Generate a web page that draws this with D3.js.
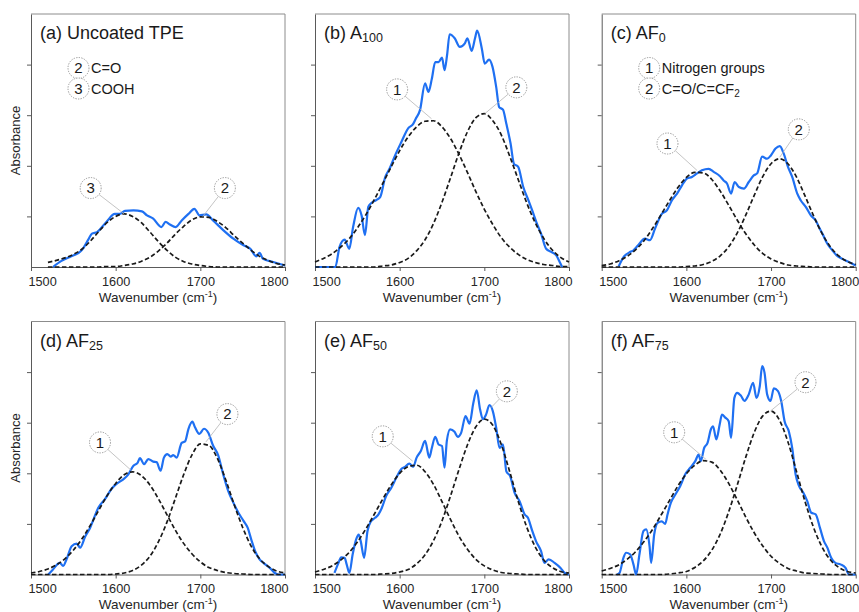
<!DOCTYPE html>
<html>
<head>
<meta charset="utf-8">
<script src="https://cdn.jsdelivr.net/npm/d3@7"></script>
<style>
  body { margin: 0; background: #fff; }
  text { font-family: "Liberation Sans", Arial, sans-serif; }
</style>
</head>
<body>
<div id="chart"></div>
<script>
/* Axis ticks. */
const xTicks = [1500, 1600, 1700, 1800]
const yTicks = [1, 2, 3, 4]

/* Wavenumbers at which the fitted peaks were read. */
const fitGrid = [1500, 1510, 1520, 1530, 1540, 1550, 1560, 1570, 1580, 1590, 1600,
  1610, 1620, 1630, 1640, 1650, 1660, 1670, 1680, 1690, 1700,
  1710, 1720, 1730, 1740, 1750, 1760, 1770, 1780, 1790, 1800]

/* Measured spectra, [wavenumber, absorbance]. */
const specA = [[1526, 0], [1536, 0.12], [1546, 0.2], [1552, 0.24], [1558, 0.3], [1562, 0.38], [1568, 0.55],
  [1572, 0.66], [1578, 0.69], [1589, 0.89], [1599, 1.05], [1605, 1.05], [1611, 1.11], [1621, 1.12],
  [1631, 1.1], [1637, 1.02], [1644, 0.96], [1654, 0.79], [1659, 0.89], [1664, 0.84], [1671, 0.79],
  [1678, 0.92], [1686, 1.05], [1693, 1.15], [1699, 1.02], [1707, 1.04], [1715, 0.92], [1727, 0.73],
  [1739, 0.56], [1751, 0.43], [1759, 0.36], [1766, 0.21], [1770, 0.28], [1774, 0.16], [1786, 0.1], [1800, 0.03]]

const specB = [[1500, 0], [1524, 0], [1529, 0.4], [1535, 0.54], [1540.5, 0.36], [1545, 0.79], [1551, 1.17],
  [1555, 1.02], [1559, 0.63], [1563, 1.19], [1567, 1.27], [1572, 1.32], [1577, 1.38], [1583, 1.78],
  [1588, 1.94], [1595.5, 2.24], [1602, 2.47], [1610, 2.74], [1616, 2.83], [1619, 2.93], [1624, 3.1],
  [1630, 3.63], [1634, 3.46], [1638, 3.72], [1642, 4.05], [1646, 4.05], [1650, 4.14], [1653, 3.89],
  [1656, 4.19], [1659, 4.6], [1665, 4.52], [1671, 4.35], [1677, 4.42], [1680, 4.52], [1685, 4.27],
  [1689, 4.52], [1691.5, 4.67], [1697, 4.32], [1700.5, 4.02], [1705.6, 4.1], [1709.6, 3.96], [1714, 3.56],
  [1717.5, 3.16], [1722, 3.11], [1726, 2.83], [1731, 2.44], [1735, 2.04], [1740, 1.98], [1746, 1.58],
  [1752, 1.32], [1758, 1.05], [1762, 0.86], [1767, 0.66], [1773, 0.36], [1779, 0.3], [1785, 0.23],
  [1789, 0.1], [1792, 0]]

const specC = [[1520, 0.01], [1526, 0.2], [1534, 0.3], [1537.5, 0.33], [1543, 0.43], [1551, 0.56], [1557, 0.53],
  [1563, 0.76], [1571, 1.05], [1577, 1.12], [1583, 1.32], [1589, 1.45], [1595, 1.62], [1600.7, 1.75],
  [1606.6, 1.78], [1612.6, 1.85], [1618.4, 1.91], [1626.3, 1.94], [1632.3, 1.88], [1639.4, 1.8], [1644, 1.71],
  [1648, 1.65], [1652.8, 1.45], [1657, 1.68], [1662, 1.58], [1668, 1.55], [1673.7, 1.68], [1679.6, 1.81],
  [1683.6, 1.85], [1689.5, 2.18], [1695.4, 2.14], [1700, 2.21], [1705.3, 2.34], [1710.4, 2.39], [1715, 2.24],
  [1720, 1.98], [1725, 1.78], [1731, 1.45], [1735, 1.32], [1741, 1.19], [1747, 1.02], [1752.7, 0.92],
  [1756.6, 0.79], [1760.6, 0.66], [1766.5, 0.46], [1772.4, 0.33], [1777.5, 0.23], [1784, 0.16], [1792, 0.1],
  [1800, 0.03]]

const specD = [[1520.5, 0], [1526, 0.1], [1534, 0.23], [1538, 0.17], [1542, 0.3], [1548, 0.56], [1554, 0.61],
  [1558, 0.53], [1564, 0.75], [1570, 0.93], [1573.6, 1.08], [1579.5, 1.32], [1587.4, 1.49], [1595, 1.69],
  [1601, 1.79], [1609, 1.88], [1615, 1.98], [1621, 2.15], [1625.6, 2.2], [1628.7, 2.3], [1633.5, 2.18],
  [1638.6, 2.28], [1644.5, 2.23], [1648.4, 2.22], [1653, 2.05], [1657, 2.31], [1661, 2.38], [1665, 2.33],
  [1668, 2.36], [1672, 2.31], [1678, 2.6], [1682, 2.63], [1686, 2.88], [1690.6, 3.02], [1693.7, 2.91],
  [1698.8, 2.78], [1704.3, 2.88], [1709.4, 2.8], [1715, 2.55], [1721, 2.36], [1727, 1.98], [1733, 1.65],
  [1739, 1.42], [1745, 1.22], [1751, 1.06], [1756, 0.92], [1760, 0.7], [1765, 0.45], [1770, 0.3],
  [1776, 0.21], [1782, 0.13], [1788, 0.03], [1792, 0], [1800, 0]]

const specE = [[1523, 0.03], [1527, 0.2], [1531, 0.34], [1535, 0.33], [1537.4, 0.2], [1540.6, 0.03], [1544.5, 0.4],
  [1548.5, 0.69], [1551.6, 0.79], [1554, 0.66], [1558, 0.33], [1562, 0.86], [1566, 1.05], [1571, 1.12],
  [1575, 1.19], [1579, 1.32], [1584, 1.55], [1590, 1.71], [1596, 1.91], [1601.7, 2.08], [1605.6, 2.12],
  [1611.5, 2.19], [1616, 2.13], [1620, 2.31], [1625, 2.44], [1630, 2.64], [1635, 2.31], [1638, 2.5],
  [1642, 2.72], [1646, 2.57], [1650, 2.54], [1653, 2.11], [1655.7, 2.64], [1659.6, 2.87], [1664.8, 2.82],
  [1668.7, 2.72], [1672.6, 2.8], [1677.8, 3.13], [1682.5, 2.98], [1687, 3.39], [1691, 3.64], [1695, 3.26],
  [1698.3, 3.07], [1702, 3.16], [1706, 3.35], [1710, 3.23], [1714, 2.9], [1718, 2.5], [1722, 2.57],
  [1726, 2.04], [1730.6, 1.94], [1735.7, 1.62], [1741.6, 1.45], [1747.5, 1.19], [1751.5, 1.12],
  [1756.6, 0.86], [1761, 0.66], [1767, 0.46], [1771, 0.23], [1776, 0.3], [1783, 0.23], [1790, 0.13],
  [1795, 0.03], [1800, 0]]

const specF = [[1518, 0], [1521, 0.03], [1525.7, 0.33], [1528.8, 0.43], [1533.6, 0.4], [1537.5, 0.2], [1540.7, 0],
  [1544.6, 0.4], [1549.3, 0.86], [1552.5, 0.89], [1556.5, 0.56], [1558.4, 0.23], [1562, 0.79], [1566, 1.02],
  [1571, 1.05], [1575, 1], [1577.8, 1.19], [1581.7, 1.42], [1587, 1.58], [1592.8, 1.75], [1598.7, 1.98],
  [1604.6, 2.11], [1610.5, 2.24], [1614.5, 2.37], [1617, 2.24], [1621, 2.5], [1625, 2.6], [1629, 2.87],
  [1631.5, 2.93], [1635.4, 2.67], [1639.4, 2.97], [1642, 3.16], [1646, 3.1], [1650, 3.03], [1652.8, 2.7],
  [1656.7, 3.49], [1660, 3.59], [1664.6, 3.53], [1668.6, 3.43], [1673.7, 3.56], [1678.8, 3.79], [1682.8, 3.49],
  [1686.7, 3.72], [1689.5, 4.12], [1692.3, 3.99], [1695.4, 3.56], [1699.4, 3.43], [1703.3, 3.68], [1708, 3.63],
  [1712, 3.43], [1716, 3.03], [1721, 2.83], [1725, 2.5], [1729, 1.98], [1733, 1.75], [1738, 1.62],
  [1742.8, 1.45], [1747.5, 1.22], [1752.7, 1.19], [1757.8, 0.92], [1762.5, 0.66], [1766.5, 0.53], [1771, 0.33],
  [1776, 0.23], [1782, 0.2], [1788, 0.13], [1792, 0], [1800, 0]]

/* Fitted peak components, one value per fitGrid entry (null = not drawn). */
const fitA3 = [null, null, 0.09, 0.13, 0.18, 0.25, 0.35, 0.51, 0.7, 0.88, 1, 1.05, 1, 0.88, 0.7, 0.51, 0.34, 0.2,
  0.11, 0.06, 0.03, 0.01, 0, 0, 0, 0, 0, 0, 0, 0, 0]
const fitA2 = [null, null, 0, 0, 0, 0, 0, 0, 0, 0.01, 0.01, 0.03, 0.06, 0.11, 0.19, 0.31, 0.46, 0.64, 0.8, 0.93,
  0.99, 0.98, 0.9, 0.78, 0.62, 0.47, 0.33, 0.21, 0.13, 0.07, 0.04]
const fitB1 = [0.1, 0.17, 0.26, 0.39, 0.55, 0.77, 1.03, 1.33, 1.65, 1.98, 2.3, 2.57, 2.77, 2.88, 2.89, 2.77, 2.54,
  2.23, 1.87, 1.49, 1.14, 0.84, 0.58, 0.39, 0.25, 0.15, 0.09, 0.05, 0.03, 0.01, 0.01]
const fitB2 = [0, 0, 0, 0, 0, 0, 0, 0, 0.02, 0.04, 0.09, 0.17, 0.32, 0.54, 0.86, 1.28, 1.76, 2.25, 2.67, 2.95,
  3.03, 2.89, 2.61, 2.19, 1.73, 1.27, 0.88, 0.57, 0.34, 0.19, 0.1]
const fitC1 = [0.03, 0.06, 0.12, 0.21, 0.34, 0.52, 0.76, 1.03, 1.31, 1.57, 1.77, 1.87, 1.86, 1.73, 1.5, 1.22,
  0.93, 0.66, 0.44, 0.27, 0.16, 0.09, 0.04, 0.02, 0.01, 0, 0, 0, 0, 0, 0]
const fitC2 = [0, 0, 0, 0, 0, 0, 0, 0, 0, 0, 0.01, 0.02, 0.05, 0.11, 0.22, 0.4, 0.67, 1.02, 1.41, 1.78, 2.04,
  2.14, 2.04, 1.78, 1.41, 1.02, 0.67, 0.4, 0.22, 0.11, 0.05]
const fitD1 = [0.03, 0.06, 0.11, 0.19, 0.31, 0.48, 0.7, 0.97, 1.27, 1.56, 1.8, 1.97, 2.03, 1.96, 1.78, 1.51,
  1.2, 0.89, 0.62, 0.41, 0.25, 0.14, 0.08, 0.04, 0.02, 0.01, 0, 0, 0, 0, 0]
const fitD2 = [0, 0, 0, 0, 0, 0, 0, 0, 0, 0, 0.01, 0.03, 0.08, 0.18, 0.35, 0.63, 1.01, 1.48, 1.96, 2.36, 2.58,
  2.55, 2.3, 1.87, 1.38, 0.93, 0.56, 0.31, 0.16, 0.07, 0.03]
const fitE1 = [0.05, 0.1, 0.17, 0.28, 0.43, 0.64, 0.9, 1.19, 1.49, 1.77, 2, 2.13, 2.16, 2.03, 1.78, 1.44, 1.09,
  0.76, 0.5, 0.3, 0.17, 0.09, 0.04, 0.02, 0.01, 0, 0, 0, 0, 0, 0]
const fitE2 = [0, 0, 0, 0, 0, 0, 0, 0, 0.01, 0.02, 0.05, 0.1, 0.21, 0.39, 0.67, 1.06, 1.55, 2.07, 2.56, 2.92,
  3.07, 2.95, 2.57, 2.03, 1.45, 0.94, 0.55, 0.29, 0.14, 0.06, 0.03]
const fitF1 = [0.07, 0.12, 0.19, 0.3, 0.45, 0.65, 0.89, 1.17, 1.46, 1.75, 1.99, 2.16, 2.25, 2.22, 2.06, 1.8,
  1.48, 1.14, 0.83, 0.57, 0.36, 0.22, 0.12, 0.07, 0.03, 0.02, 0.01, 0, 0, 0, 0]
const fitF2 = [0, 0, 0, 0, 0, 0, 0, 0, 0.01, 0.03, 0.06, 0.14, 0.27, 0.48, 0.8, 1.24, 1.76, 2.31, 2.8, 3.13,
  3.23, 3.05, 2.62, 2.04, 1.45, 0.94, 0.55, 0.29, 0.14, 0.06, 0.03]

/* Panel titles: letter, name, subscript. */
const panelLetters = ["(a)", "(b)", "(c)", "(d)", "(e)", "(f)"]
const panelNames = ["Uncoated TPE", "A", "AF", "AF", "AF", "AF"]
const panelSubs = ["", "100", "0", "25", "50", "75"]

/* Peak labels: number, label position and peak it points to, in data units. */
const calloutsA = [["3", [1570.5, 1.56], [1610, 1.05]], ["2", [1729, 1.56], [1703, 1.0]]]
const calloutsB = [["1", [1597, 3.51], [1637.6, 2.93]], ["2", [1737.8, 3.55], [1700.5, 3.03]]]
const calloutsC = [["1", [1577.7, 2.44], [1612.5, 1.91]], ["2", [1732.8, 2.72], [1710.3, 2.17]]]
const calloutsD = [["1", [1581.5, 2.61], [1618.9, 2.05]], ["2", [1732, 3.17], [1706.6, 2.62]]]
const calloutsE = [["1", [1580, 2.73], [1615.4, 2.24]], ["2", [1726.6, 3.62], [1708, 3.3]]]
const calloutsF = [["1", [1585.6, 2.81], [1623.5, 2.27]], ["2", [1740.7, 3.8], [1699.3, 3.23]]]

/* Legends of the assignments. */
const legendA = [["2", "C=O", ""], ["3", "COOH", ""]]
const legendC = [["1", "Nitrogen groups", ""], ["2", "C=O/C=CF", "2"]]

/* Build a small table from the arrays above. */
const panels = [
  { spec: specA, fits: [fitA3, fitA2], callouts: calloutsA, legend: legendA },
  { spec: specB, fits: [fitB1, fitB2], callouts: calloutsB, legend: [] },
  { spec: specC, fits: [fitC1, fitC2], callouts: calloutsC, legend: legendC },
  { spec: specD, fits: [fitD1, fitD2], callouts: calloutsD, legend: [] },
  { spec: specE, fits: [fitE1, fitE2], callouts: calloutsE, legend: [] },
  { spec: specF, fits: [fitF1, fitF2], callouts: calloutsF, legend: [] }
]

/* Layout. */
const width = 859
const height = 612
const colX = [31, 315, 601.7]
const rowY = [14, 321.5]
const plotW = 254
const plotH = 253
const circleR = 10.5

const svg = d3.select("#chart")
  .append("svg")
  .attr("width", width)
  .attr("height", height)

const x = d3.scaleLinear().domain([1500, 1800]).range([0, plotW])
const y = d3.scaleLinear().domain([0, 5]).range([plotH, 0])

const specLine = d3.line()
  .x(d => x(d[0]))
  .y(d => y(d[1]))
  .curve(d3.curveMonotoneX)

/* Draw a dotted numbered circle. */
function drawBadge(g, cx, cy, label) {
  g.append("circle")
    .attr("cx", cx)
    .attr("cy", cy)
    .attr("r", circleR)
    .attr("fill", "#fff")
    .attr("stroke", "#8a8a8a")
    .attr("stroke-width", 0.9)
    .attr("stroke-dasharray", "1.3,1.3")
  g.append("text")
    .attr("x", cx)
    .attr("y", cy)
    .attr("dy", "0.36em")
    .attr("text-anchor", "middle")
    .attr("font-size", 15)
    .attr("fill", "#1a1a1a")
    .text(label)
}

panels.forEach((p, i) => {
  const col = i % 3
  const row = Math.floor(i / 3)
  const g = svg.append("g")
    .attr("transform", `translate(${colX[col]},${rowY[row]})`)

  /* Frame. */
  g.append("path")
    .attr("d", `M0,0H${plotW}V${plotH}`)
    .attr("fill", "none")
    .attr("stroke", "#8c8c8c")
    .attr("stroke-width", 1)

  /* Axes. */
  const xAxis = g.append("g")
    .attr("transform", `translate(0,${plotH})`)
    .call(d3.axisBottom(x).tickValues(xTicks).tickSize(4).tickSizeOuter(0).tickPadding(5.5).tickFormat(d3.format("d")))
  const yAxis = g.append("g")
    .call(d3.axisLeft(y).tickValues(yTicks).tickSize(4).tickSizeOuter(0).tickFormat(""))
  ;[xAxis, yAxis].forEach(a => {
    a.select(".domain").attr("stroke", "#5a5a5a")
    a.selectAll(".tick line").attr("stroke", "#5a5a5a")
    a.selectAll("text")
      .attr("font-family", "'Liberation Sans', Arial, sans-serif")
      .attr("font-size", 12.7)
      .attr("fill", "#262626")
  })
  /* End labels sit inside the axis span. */
  xAxis.selectAll(".tick text")
    .attr("text-anchor", (d, k) => k === 0 ? "start" : (k === xTicks.length - 1 ? "end" : "middle"))
    .attr("dx", (d, k) => k === 0 ? -3 : (k === xTicks.length - 1 ? 3 : 0))

  /* X-axis title. */
  const xt = g.append("text")
    .attr("x", plotW / 2)
    .attr("y", plotH + 34.5)
    .attr("text-anchor", "middle")
    .attr("font-size", 13.5)
    .attr("fill", "#262626")
  xt.append("tspan").text("Wavenumber (cm")
  xt.append("tspan").attr("font-size", 9).attr("dy", -5).text("-1")
  xt.append("tspan").attr("dy", 5).text(")")

  /* Y-axis title only on first column. */
  if (col === 0) {
    g.append("text")
      .attr("transform", "rotate(-90)")
      .attr("x", -plotH / 2)
      .attr("y", -11)
      .attr("text-anchor", "middle")
      .attr("font-size", 13)
      .attr("fill", "#262626")
      .text("Absorbance")
  }

  /* Measured spectrum. */
  g.append("path")
    .attr("d", specLine(p.spec))
    .attr("fill", "none")
    .attr("stroke", "#1f70f2")
    .attr("stroke-width", 2.2)
    .attr("stroke-linejoin", "round")

  /* Fitted components. */
  p.fits.forEach(f => {
    const pts = f.map((v, k) => [fitGrid[k], v]).filter(d => d[1] != null)
    g.append("path")
      .attr("d", specLine(pts))
      .attr("fill", "none")
      .attr("stroke", "#1a1a1a")
      .attr("stroke-width", 1.7)
      .attr("stroke-dasharray", "4.5,2.5")
  })

  /* Callouts. */
  p.callouts.forEach(c => {
    const cx = x(c[1][0]), cy = y(c[1][1])
    const tx = x(c[2][0]), ty = y(c[2][1])
    const dist = Math.hypot(tx - cx, ty - cy)
    g.append("line")
      .attr("x1", cx + (tx - cx) / dist * circleR)
      .attr("y1", cy + (ty - cy) / dist * circleR)
      .attr("x2", tx)
      .attr("y2", ty)
      .attr("stroke", "#b5b5b5")
      .attr("stroke-width", 0.8)
    drawBadge(g, cx, cy, c[0])
  })

  /* Legend. */
  p.legend.forEach((l, k) => {
    const cy = 54 + k * 20.5
    drawBadge(g, 47.5, cy, l[0])
    const t = g.append("text")
      .attr("x", 60)
      .attr("y", cy)
      .attr("dy", "0.36em")
      .attr("font-size", 14.5)
      .attr("fill", "#1a1a1a")
    t.append("tspan").text(l[1])
    if (l[2]) t.append("tspan").attr("font-size", 10).attr("dy", 3).text(l[2])
  })

  /* Panel title. */
  const title = g.append("text")
    .attr("x", 9)
    .attr("y", 25)
    .attr("font-size", 18)
    .attr("fill", "#1a1a1a")
  title.append("tspan").text(`${panelLetters[i]} ${panelNames[i]}`)
  if (panelSubs[i]) title.append("tspan").attr("font-size", 12.5).attr("dy", 3).text(panelSubs[i])
})
</script>
</body>
</html>
